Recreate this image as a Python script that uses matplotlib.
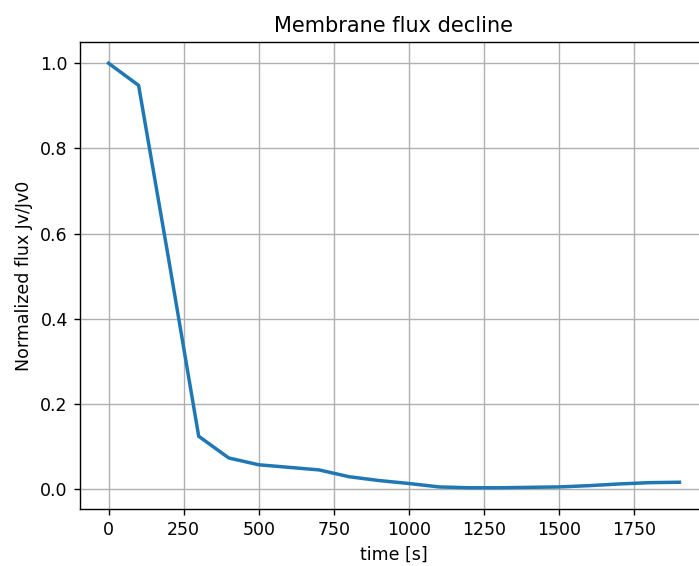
import matplotlib
matplotlib.use("Agg")
import matplotlib.pyplot as plt

time = [0, 100, 200, 300, 400, 500, 600, 700, 800, 900, 1000,
        1100, 1200, 1300, 1400, 1500, 1600, 1700, 1800, 1900]
flux = [1.0, 0.948, 0.54, 0.124, 0.073, 0.057, 0.051, 0.045, 0.029, 0.020, 0.013,
        0.005, 0.003, 0.003, 0.004, 0.005, 0.008, 0.012, 0.015, 0.016]

# rendered at dpi 125 so text/lines come out at the reference scale
fig = plt.figure(figsize=(699 / 125, 566 / 125), dpi=125)
ax = fig.add_axes([80 / 699, 57 / 566, 628 / 699, 467 / 566])
ax.plot(time, flux, linewidth=2)
ax.set_xlabel("time [s]")
ax.set_ylabel("Normalized flux Jv/Jv0")
ax.set_title("Membrane flux decline")
ax.grid(True)
fig.savefig("out.png", dpi=125)
